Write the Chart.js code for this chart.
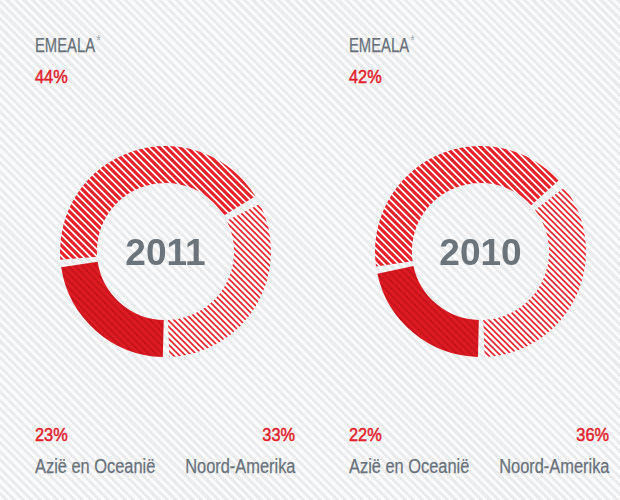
<!DOCTYPE html>
<html>
<head>
<meta charset="utf-8">
<script src="https://cdn.jsdelivr.net/npm/chart.js@4/dist/chart.umd.min.js"></script>
<style>
  html, body { margin: 0; padding: 0; }
  body {
    width: 620px; height: 500px; position: relative; overflow: hidden;
    background: repeating-linear-gradient(45deg, #fbfbfc 0px, #fbfbfc 3px, #eaebed 3px, #eaebed 6px);
    font-family: "Liberation Sans", "DejaVu Sans", sans-serif;
  }
  .lbl { position: absolute; line-height: 1; white-space: nowrap; transform-origin: left top; }
  .lbl.right { transform-origin: right top; text-align: right; }
  .name { font-size: 20px; color: #68717a; transform: scaleX(0.82); -webkit-text-stroke: 0.25px #68717a; }
  .name.caps { transform: scaleX(0.74); }
  .pct { font-size: 19px; color: #e3202a; transform: scaleX(0.86); -webkit-text-stroke: 0.5px #e3202a; }
  .ast { font-size: 15px; color: #a0a6ab; position: relative; top: -7px; margin-left: 2px; -webkit-text-stroke: 0; }
  canvas { position: absolute; }
</style>
</head>
<body>
<canvas id="c0" width="211" height="211"></canvas>
<canvas id="c1" width="211" height="211"></canvas>
<script>
// ---- data ----
const years = ['2011', '2010'];
const categories = ['Noord-Amerika', 'Azië en Oceanië', 'EMEALA'];
const values2011 = [33, 23, 44];
const values2010 = [36, 22, 42];
const footnoteMark = '*';

const seriesByYear = [values2011, values2010];

// ---- layout ----
const panelLeft = [35, 349];
const panelRight = [295, 609];
const centers = [[165, 251], [480, 251]];
const canvasSize = 211;

function makeStripe(base, stripe, period, width) {
  const t = document.createElement('canvas');
  t.width = period; t.height = period;
  const g = t.getContext('2d');
  g.fillStyle = base; g.fillRect(0, 0, period, period);
  g.strokeStyle = stripe; g.lineWidth = width;
  g.beginPath();
  for (let k = -2; k <= 2; k++) {
    g.moveTo(k * period - period, -period);
    g.lineTo(k * period + 2 * period, 2 * period);
  }
  g.stroke();
  return g.createPattern(t, 'repeat');
}

const patNA = makeStripe('#ffffff', '#e8222b', 6, 1.6);
const patAsia = makeStripe('#dc1b23', '#c8141c', 7, 2);
const patEMEA = makeStripe('#ffffff', '#e8222b', 7, 3.2);

const yearPlugin = {
  id: 'yearCenter',
  afterDraw(chart) {
    const arc = chart.getDatasetMeta(0).data[0];
    if (!arc) return;
    const ctx = chart.ctx;
    ctx.save();
    ctx.font = 'bold 37px "Liberation Sans", "DejaVu Sans", sans-serif';
    ctx.fillStyle = '#6b747a';
    ctx.textAlign = 'center';
    ctx.textBaseline = 'alphabetic';
    ctx.fillText(chart.options.plugins.yearCenter.text, arc.x, arc.y + 13);
    ctx.restore();
  }
};

function addLabel(text, pos, top, cls, alignRight) {
  const d = document.createElement('div');
  d.className = 'lbl ' + cls + (alignRight ? ' right' : '');
  if (alignRight) {
    d.style.right = (620 - pos) + 'px';
  } else {
    d.style.left = pos + 'px';
  }
  d.style.top = top + 'px';
  d.textContent = text;
  document.body.appendChild(d);
  return d;
}

years.forEach((year, i) => {
  const vals = seriesByYear[i];
  const cv = document.getElementById('c' + i);
  cv.style.left = (centers[i][0] - canvasSize / 2) + 'px';
  cv.style.top = (centers[i][1] - canvasSize / 2) + 'px';
  new Chart(cv, {
    type: 'doughnut',
    data: {
      labels: categories,
      datasets: [{
        data: vals,
        backgroundColor: [patNA, patAsia, patEMEA],
        borderWidth: 0,
        spacing: 6
      }]
    },
    options: {
      responsive: false,
      animation: false,
      cutout: '64%',
      rotation: 180 - vals[0] / 100 * 360,
      layout: { padding: 0 },
      plugins: {
        legend: { display: false },
        tooltip: { enabled: false },
        yearCenter: { text: year }
      }
    },
    plugins: [yearPlugin]
  });

  // labels
  const em = addLabel(categories[2], panelLeft[i], 35, 'name caps', false);
  const s = document.createElement('span');
  s.className = 'ast'; s.textContent = footnoteMark;
  em.appendChild(s);
  addLabel(vals[2] + '%', panelLeft[i], 67, 'pct', false);
  addLabel(vals[1] + '%', panelLeft[i], 425, 'pct', false);
  addLabel(categories[1], panelLeft[i], 456, 'name', false);
  addLabel(vals[0] + '%', panelRight[i], 425, 'pct', true);
  addLabel(categories[0], panelRight[i], 456, 'name', true);
});
</script>
</body>
</html>
